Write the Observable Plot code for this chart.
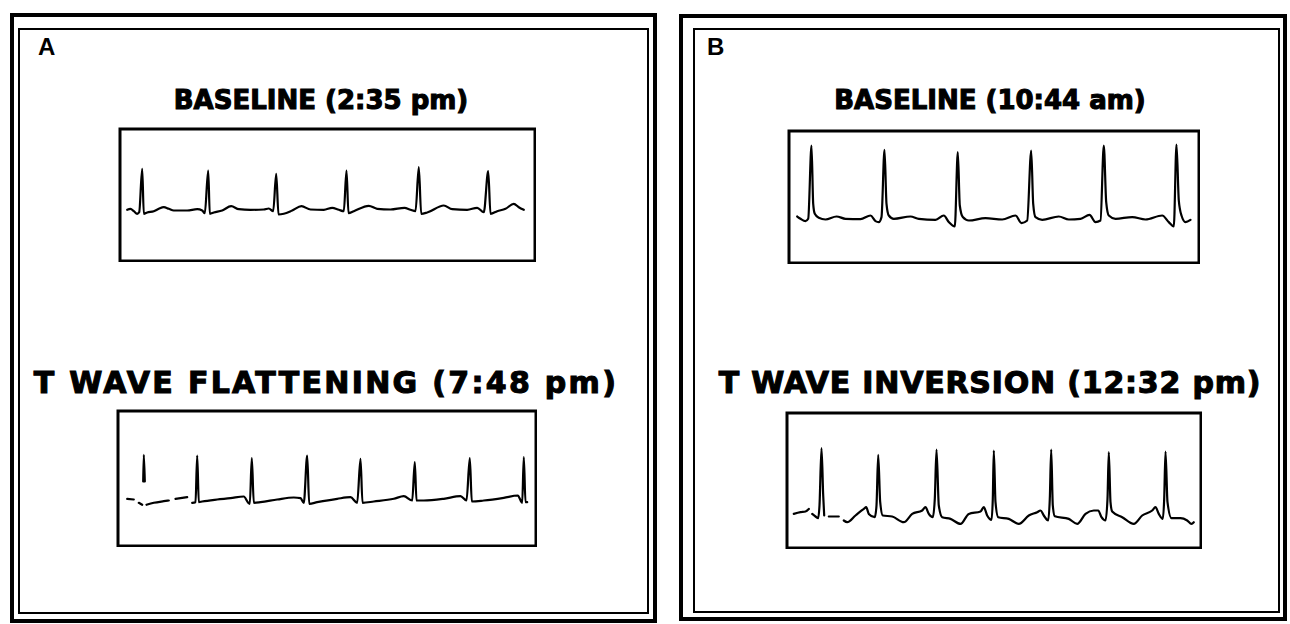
<!DOCTYPE html>
<html><head><meta charset="utf-8">
<script src="https://cdn.jsdelivr.net/npm/d3@7"></script>
<script src="https://cdn.jsdelivr.net/npm/@observablehq/plot@0.6"></script>
<style>
html,body{margin:0;padding:0;background:#fff;}
#page{position:relative;width:1290px;height:624px;overflow:hidden;background:#fff;}
.outer{position:absolute;border:4px solid #000;box-sizing:border-box;}
.inner{position:absolute;border:2px solid #000;box-sizing:border-box;}
.letter{position:absolute;font:bold 24px "Liberation Sans",Arial,sans-serif;line-height:24px;color:#000;}
.title{position:absolute;font-family:"DejaVu Sans",sans-serif;font-weight:bold;white-space:nowrap;transform:translateX(-50%);-webkit-text-stroke:1.1px #000;color:#000;}
.strip{position:absolute;}
.strip svg{display:block;}
</style></head><body><div id="page"></div>
<script>
// Panel letters and titles
const panelLetters = ["A", "B"];
const panelTitles = [
  ["BASELINE (2:35 pm)", "T WAVE FLATTENING (7:48 pm)"],
  ["BASELINE (10:44 am)", "T WAVE INVERSION (12:32 pm)"]
];

// ECG strips: [time (paper mm), amplitude (paper mm)]; null = gap in trace
const stripA1 = [[16.7,0.7],[20,1.7],[23.3,-0.7],[26.7,-3.3],[28.7,-1.7],[31.7,41.7],[33.3,-3.3],[36.7,-2],[43.3,-0.7],[48.3,1.7],[53.3,3.3],[58.3,1.7],[63.3,0],[76.7,0],[86.7,1.3],[91.7,0],[94.3,-2.7],[97.7,40],[99.3,-3.3],[103.3,-2],[111.7,0],[120.7,4.3],[128.3,1.3],[140,0.7],[153.3,1],[158.3,2],[162.7,-0.7],[165.7,36.7],[168,-4],[173.3,-3.3],[181.7,0],[191,4.3],[200,1],[213.3,0.7],[221.7,2.7],[228.3,0.7],[233.3,-0.7],[236,40],[238,-2.7],[243.3,-0.7],[258.3,4.7],[266.7,1.7],[280,1],[294,2.7],[300,0.7],[305,-0.7],[308.3,43.3],[310.7,-3.3],[316.7,-2],[333.3,5],[341.7,1.3],[356.7,0.7],[366.7,2.7],[373.3,-1.7],[377.7,39.3],[380,-3.3],[386.7,-0.7],[395,1.7],[403.3,6.7],[408.3,3.3],[413.3,0.7]];

const stripA2 = [[16.7,1.7],[23.3,1],[25,null],[28.3,-2.3],[31.7,-4.3],[32.2,null],[32.7,19],[33.3,45.7],[34.3,19],[35,null],[36,-4.3],[43.3,-2.3],[53.3,-0.7],[58.3,0],[60,null],[65,1.7],[76.7,3.3],[78,null],[81.7,-2.3],[85,-1.7],[86.7,45],[88.3,-1.7],[91.7,-1],[106.7,1],[120,2.3],[133.3,4],[137.3,-1.7],[139.3,-3.3],[141.3,42.3],[143.3,-2.3],[150,-1.7],[166.7,1],[183.3,3],[190,2.3],[193.3,-2.3],[196.7,45],[198.7,-3.3],[206.7,-1.7],[226.7,1.7],[240,3.3],[246.7,-2.3],[250,41.7],[252,-2.3],[263.3,-1],[283.3,1.7],[293.3,4.3],[301.7,0],[304.3,38.3],[306,0],[313.3,0],[333.3,1.7],[350,4.3],[356,0],[359.3,42.3],[361.3,-1],[373.3,0],[393.3,2.7],[407.3,5],[411.7,-2.3],[413.3,43.3],[415,-1.7],[416.7,-1.7]];

const stripB1 = [[21.7,2.3],[25,0],[30,-2.3],[32.7,0],[36,73.3],[37.7,15],[39.3,5],[43.3,1],[50,-0.7],[61,2.3],[70,0],[85,-0.3],[95,3.3],[100,-2.3],[103.3,-3.3],[106,1.7],[109,69],[111,15],[113.3,3.3],[118.3,0],[135,2.3],[143.3,0],[160,-1],[168.3,3.3],[173.3,-3.3],[179.3,-7.7],[182.3,66.7],[184.3,13.3],[187.3,1.7],[193.3,-1.7],[210,0.7],[226.7,-0.7],[240,3.3],[246,-4.3],[251.7,-1.7],[255.7,68.3],[257.7,15],[260,1.7],[266.7,-1],[283.3,2.3],[293.3,-0.7],[305,0],[314,4],[320,-3.3],[325,-1.7],[328.3,73.3],[330.7,16.7],[333.3,3.3],[340,0],[356.7,1.7],[370,-0.7],[386.7,3.3],[393.3,-3.3],[398.3,-7.7],[401,74.3],[403.3,18.3],[406,3.3],[410,-3.3],[415,-1]];

const stripB2 = [[18.3,3.3],[25,5],[30,5.7],[33.3,8.3],[35,null],[36.7,3.3],[40,0.7],[42.7,-1],[44,11.7],[46,69],[47.7,21.7],[48.7,1.7],[50,null],[53.3,0.7],[63.3,0.7],[65,null],[68.3,-3.3],[71.7,-5],[80,1.7],[88.3,8.3],[90.7,10],[93.3,3.3],[99.3,0],[101,11.7],[102.7,62.3],[104.7,15],[107.3,1.7],[116.7,0.7],[128.3,-5],[136.7,3.3],[146.7,6.7],[150,10],[153.3,3.3],[157.3,0],[159.3,18.3],[161,67.7],[163.3,11.7],[166.7,0],[175,-1.7],[185,-6.7],[193.3,3.3],[205,5.7],[208.3,10],[211.7,1.7],[216,-2.7],[217.3,18.3],[218.3,66.7],[220,15],[222.7,0],[233.3,-1.7],[243.3,-6.7],[253.3,1.7],[261.7,5],[265,6.7],[268.3,1.7],[272.7,-3.3],[274.3,18.3],[275.7,67.7],[277.3,11.7],[279.3,1],[293.3,-1.7],[301.7,-6.7],[310,3.3],[318.3,6.7],[322.7,6.7],[326,0],[330,-3.3],[332,18.3],[333.3,65],[335,15],[336.7,5.7],[346.7,0],[358.3,-6.7],[366.7,1.7],[376.7,6.7],[380,10],[383.3,3.3],[387.3,-1.7],[388.7,18.3],[390,65.7],[392,15],[396,-1],[405,-1],[411.7,-3.3],[416,-6.7],[418.3,-5]];

// ---- layout ----
const page = document.getElementById("page");
function box(cls, l, t, r, b) {
  const d = document.createElement("div");
  d.className = cls;
  Object.assign(d.style, {left: l + "px", top: t + "px", width: (r - l) + "px", height: (b - t) + "px"});
  page.appendChild(d);
  return d;
}
function text(cls, str, l, t, extra) {
  const d = document.createElement("div");
  d.className = cls;
  d.textContent = str;
  Object.assign(d.style, {left: l + "px", top: t + "px"}, extra || {});
  page.appendChild(d);
}

// frames of the two panels
box("outer", 10, 13, 657, 623);
box("inner", 18, 28, 649, 614);
box("outer", 679, 14, 1287, 621);
box("inner", 693, 28, 1280, 613);

text("letter", panelLetters[0], 38, 35);
text("letter", panelLetters[1], 707, 35);
text("title", panelTitles[0][0], 321, 87, {fontSize: "26px", lineHeight: "26px"});
text("title", panelTitles[0][1], 326, 368, {fontSize: "30px", lineHeight: "30px", letterSpacing: "2.3px"});
text("title", panelTitles[1][0], 990, 87, {fontSize: "26px", lineHeight: "26px"});
text("title", panelTitles[1][1], 990, 368, {fontSize: "30px", lineHeight: "30px", letterSpacing: "0.8px"});

const strips = [
  {data: stripA1, left: 118, top: 127, w: 418, h: 135, x: [8, 426], y: [-52, 83]},
  {data: stripA2, left: 116, top: 409, w: 421, h: 138, x: [6, 427], y: [-47, 91]},
  {data: stripB1, left: 787, top: 129, w: 413, h: 135, x: [12, 425], y: [-45.7, 89.3]},
  {data: stripB2, left: 785, top: 411, w: 417, h: 138, x: [10, 427], y: [-32.3, 105.7]}
];

for (const s of strips) {
  const rows = s.data.map(([t, mm]) => ({t, mm: mm == null ? NaN : mm}));
  const svg = Plot.plot({
    width: s.w, height: s.h, margin: 0,
    style: {background: "white"},
    x: {domain: s.x, axis: null},
    y: {domain: s.y, axis: null},
    marks: [
      Plot.frame({stroke: "#000", strokeWidth: 3, inset: 1.5}),
      Plot.line(rows, {x: "t", y: "mm", stroke: "#000", strokeWidth: 2.2, curve: "monotone-x", strokeLinejoin: "round"})
    ]
  });
  const d = document.createElement("div");
  d.className = "strip";
  Object.assign(d.style, {left: s.left + "px", top: s.top + "px", width: s.w + "px", height: s.h + "px"});
  d.appendChild(svg);
  page.appendChild(d);
}
</script></body></html>
